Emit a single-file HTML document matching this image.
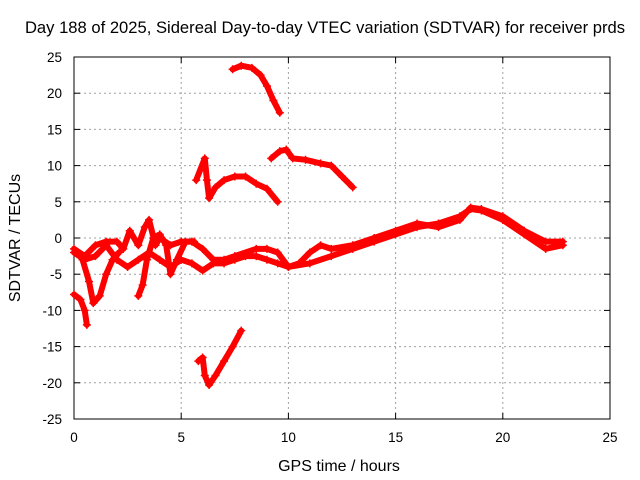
<!DOCTYPE html>
<html><head><meta charset="utf-8"><style>
body{margin:0;background:#fff}
svg{display:block;font-family:"Liberation Sans",sans-serif}
</style></head><body>
<svg id="chart" width="640" height="480" viewBox="0 0 640 480">
<rect width="640" height="480" fill="#fff"/>
<text x="325" y="33" font-size="16.6" text-anchor="middle">Day 188 of 2025, Sidereal Day-to-day VTEC variation (SDTVAR) for receiver prds</text>
<g id="grid"></g>
<g id="axes"></g>
<g id="series"></g>
<text x="339" y="471" font-size="16" text-anchor="middle">GPS time / hours</text>
<text transform="translate(20,238) rotate(-90)" font-size="16" text-anchor="middle">SDTVAR / TECUs</text>
</svg>
<script>
const xTicks=[0,5,10,15,20,25];
const yTicks=[25,20,15,10,5,0,-5,-10,-15,-20,-25];
const traceTop=[[7.4,23.3],[7.8,23.8],[8.3,23.5],[8.7,22.5],[9.0,21],[9.3,19],[9.6,17.3]];
const traceTen=[[9.2,11],[9.6,12],[9.9,12.2],[10.2,11],[10.8,10.8],[11.5,10.3],[12.0,10],[12.5,8.5],[13.0,7]];
const traceMid=[[5.7,8],[6.1,11],[6.2,8],[6.3,5.5],[6.6,7],[7,8],[7.5,8.5],[8,8.5],[8.5,7.5],[9,6.8],[9.5,5]];
const traceLow=[[0,-7.8],[0.3,-8.5],[0.5,-10],[0.6,-12]];
const traceNeg20=[[5.8,-17],[6.0,-16.5],[6.1,-19],[6.3,-20.3],[6.6,-19],[7,-17],[7.4,-15],[7.8,-12.8]];
const traceMainA=[[0,-2],[0.5,-3],[1,-2.5],[1.5,-1],[2,-3],[2.5,-4],[3,-3],[3.5,-2],[4,-3],[4.5,-4],[5,-3],[5.5,-3.5],[6,-4.5],[6.5,-3.5],[7,-3.5],[7.5,-3],[8,-2.5],[8.5,-2.5],[9,-3],[9.5,-3.5],[10,-4],[11,-3.5],[12,-2.5],[13,-1.5],[14,-0.5],[15,0.5],[16,1.5],[17,2],[18,3],[18.5,4],[19,3.8],[20,2.5],[21,0.5],[22,-1.5],[22.8,-1]];
const traceMainB=[[0,-1.5],[0.5,-2.5],[1,-1],[1.5,-0.5],[2,-0.5],[2.3,-1.5],[2.6,1],[3,-1],[3.3,1.5],[3.5,2.5],[3.8,-1],[4,0],[4.5,-1],[5,-0.5],[5.5,-0.5],[6,-1.5],[6.5,-3],[7,-3],[7.5,-2.5],[8.5,-1.5],[9,-1.5],[9.5,-2],[10,-4],[10.5,-3.5],[11,-2],[11.5,-1],[12,-1.5],[13,-1],[14,0],[15,1],[16,2],[17,1.5],[18,2.5],[18.5,4.2],[19,4],[20,3],[21,1],[22,-0.5],[22.8,-0.5]];
const traceDip=[[0.4,-3],[0.7,-6],[0.9,-9],[1.2,-8],[1.5,-5],[1.8,-3],[2.1,-2]];
const traceDip2=[[3.0,-8],[3.2,-6.5],[3.4,-3],[3.7,0],[4.0,0.5],[4.3,-1],[4.5,-5],[4.8,-3],[5.2,-0.5],[5.6,-0.5]];
const traces=[traceTop,traceTen,traceMid,traceLow,traceNeg20,traceMainA,traceMainB,traceDip,traceDip2];
const L=74,R=610,T=57,B=419;
function sx(v){return L+(v-0)/(25-0)*(R-L);}
function sy(v){return B-(v+25)/50*(B-T);}
const NS='http://www.w3.org/2000/svg';
function mk(tag,attrs,parent){const e=document.createElementNS(NS,tag);for(const k in attrs)e.setAttribute(k,attrs[k]);parent.appendChild(e);return e;}
const grid=document.getElementById('grid'),axes=document.getElementById('axes'),ser=document.getElementById('series');
xTicks.forEach(t=>{
  const x=sx(t);
  if(t>0&&t<25){const g=mk('line',{x1:x,x2:x,y1:T,y2:B,stroke:'#a0a0a0','stroke-dasharray':'2,3'},grid);
  
  }
  const tx=mk('text',{x:x,y:B+23,'font-size':13.5,'text-anchor':'middle'},axes);tx.textContent=t;
  
  
  mk('line',{x1:x,x2:x,y1:B,y2:B-6,stroke:'#000'},axes);
  mk('line',{x1:x,x2:x,y1:T,y2:T+6,stroke:'#000'},axes);
});
yTicks.forEach(t=>{
  const y=sy(t);
  if(t>-25&&t<25){const g=mk('line',{x1:L,x2:R,y1:y,y2:y,stroke:'#a0a0a0','stroke-dasharray':'2,3'},grid);
  
  }
  const tx=mk('text',{x:L-12,y:y+5,'font-size':13.5,'text-anchor':'end'},axes);tx.textContent=t;
  
  
  mk('line',{x1:L,x2:L+6,y1:y,y2:y,stroke:'#000'},axes);
  mk('line',{x1:R,x2:R-6,y1:y,y2:y,stroke:'#000'},axes);
});
const frame=mk('rect',{x:L,y:T,width:R-L,height:B-T,fill:'none',stroke:'#000'},axes);


traces.forEach(tr=>{
  const pts=tr.map(p=>sx(p[0])+','+sy(p[1])).join(' ');
  const pl=mk('polyline',{points:pts,fill:'none',stroke:'#ff0000','stroke-width':6,'stroke-linejoin':'round','stroke-linecap':'round'},ser);
  
  
  tr.forEach(p=>{
    const x=sx(p[0]),y=sy(p[1]);
    const m=mk('path',{d:`M${x-4},${y}H${x+4}M${x},${y-4}V${y+4}`,stroke:'#ff0000','stroke-width':1.5},ser);
    
    
  });
});
</script>
</body></html>
